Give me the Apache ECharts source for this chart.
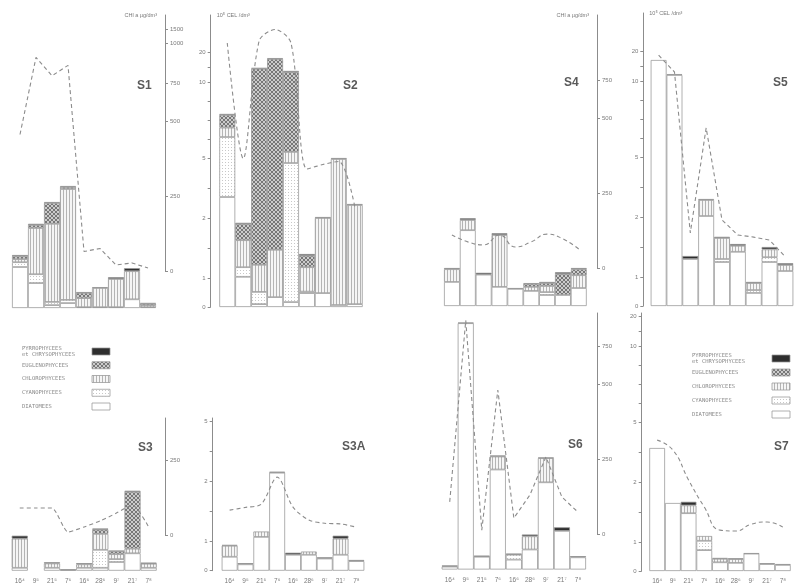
<!DOCTYPE html>
<html>
<head>
<meta charset="utf-8">
<script src="https://cdn.jsdelivr.net/npm/echarts@6/dist/echarts.min.js"></script>
<style>
  html, body { margin: 0; padding: 0; background: #ffffff; }
  #chart { width: 794px; height: 587px; }
</style>
</head>
<body>
<div id="chart"></div>
<script>
// Sampling dates (day with month as superscript)
const dates = ['16⁴', '9⁵', '21⁵', '7⁶', '16⁶', '28⁶', '9⁷', '21⁷', '7⁸'];
const groupNames = ['DIATOMEES', 'CYANOPHYCEES', 'CHLOROPHYCEES', 'EUGLENOPHYCEES', 'PYRROPHYCEES et CHRYSOPHYCEES'];

// Tick values of the two broken scales
const cellTicks = [0, 1, 2, 5, 10, 20];          // 10^5 cells / dm3
const chlTicks = [0, 250, 500, 750, 1000, 1500]; // chl a, µg / dm3

// Cell counts (10^5 cel/dm3) per group, and chlorophyll a (µg/dm3)
const S1_diatomees = [1.2, 0.86, 0.1, 0.17, 0.03, 0.03, 0.03, 0.3, 0.03];
const S1_cyanophycees = [0.08, 0.22, 0.11, 0.11, 0, 0, 0, 0, 0];
const S1_chlorophycees = [0.05, 0.77, 1.71, 3.22, 0.31, 0.66, 0.97, 0.83, 0.07];
const S1_euglenophycees = [0.05, 0.05, 0.88, 0.1, 0.18, 0, 0, 0, 0.05];
const S1_pyrrophycees = [0.02, 0.02, 0.05, 0.05, 0.03, 0.03, 0.03, 0.05, 0.02];
const S1_chl = [455, 910, 795, 860, 65, 75, 20, 27, 10];

const S2_diatomees = [3.05, 1.02, 0.1, 0.34, 0.17, 0.48, 0.48, 0.07, 0.1];
const S2_cyanophycees = [3.33, 0.16, 0.42, 0, 4.58, 0.05, 0, 0, 0];
const S2_chlorophycees = [0.62, 0.45, 0.7, 1.13, 0.65, 0.65, 1.52, 4.88, 2.55];
const S2_euglenophycees = [0.83, 0.27, 13.2, 16.2, 7.9, 0.19, 0, 0, 0];
const S2_pyrrophycees = [0.07, 0.02, 0.3, 0.3, 0.4, 0.03, 0.05, 0.05, 0.05];
const S2_chl = [1000, 375, 1070, 1480, 1000, 340, 355, 365, 215];

const S4_diatomees = [0.83, 1.78, 1.04, 0.66, 0.59, 0.52, 0.38, 0.38, 0.62];
const S4_cyanophycees = [0, 0, 0, 0, 0, 0, 0.1, 0, 0];
const S4_chlorophycees = [0.3, 0.17, 0, 1.04, 0, 0.14, 0.21, 0, 0.41];
const S4_euglenophycees = [0, 0, 0, 0, 0, 0.1, 0.1, 0.67, 0.1];
const S4_pyrrophycees = [0.02, 0.03, 0.03, 0.03, 0.03, 0.03, 0.04, 0.03, 0.02];
const S4_chl = [110, 87, 77, 110, 70, 87, 113, 97, 63];

const S5_diatomees = [17, 12, 1.3, 2.05, 1.25, 1.42, 0.45, 1.25, 1.1];
const S5_cyanophycees = [0, 0, 0, 0, 0.05, 0, 0.1, 0.08, 0];
const S5_chlorophycees = [0, 0.3, 0, 0.8, 0.35, 0.1, 0.24, 0.13, 0.1];
const S5_euglenophycees = [0, 0, 0, 0, 0, 0, 0, 0, 0];
const S5_pyrrophycees = [0, 0, 0.05, 0.05, 0.02, 0.03, 0.04, 0.04, 0.03];
const S5_chl = [905, 800, 117, 467, 160, 110, 103, 93, 37];

const S3_diatomees = [0.1, 0, 0.1, 0, 0.1, 0.1, 0.3, 0.6, 0.1];
const S3_cyanophycees = [0, 0, 0, 0, 0, 0.62, 0.1, 0, 0];
const S3_chlorophycees = [0.95, 0, 0.15, 0, 0.12, 0.41, 0.17, 0.16, 0.14];
const S3_euglenophycees = [0, 0, 0, 0, 0, 0.07, 0.1, 1.07, 0];
const S3_pyrrophycees = [0.05, 0, 0.04, 0.05, 0.04, 0.02, 0.02, 0.02, 0.04];
const S3_chl = [90, 90, 90, 10, 27, 47, 73, 100, 27];

const S3A_diatomees = [0.48, 0.22, 1.08, 2.45, 0.55, 0.55, 0.42, 0.55, 0.33];
const S3A_cyanophycees = [0, 0, 0, 0, 0, 0, 0, 0, 0];
const S3A_chlorophycees = [0.38, 0, 0.09, 0, 0, 0.11, 0, 0.5, 0];
const S3A_euglenophycees = [0, 0, 0, 0, 0, 0, 0, 0, 0];
const S3A_pyrrophycees = [0.03, 0.04, 0, 0.05, 0.07, 0, 0.04, 0.05, 0.04];
const S3A_chl = [83, 92, 103, 193, 93, 50, 39, 37, 26];

const S6_diatomees = [0.1, 17.1, 0.44, 2.55, 0.34, 0.69, 1.97, 1.16, 0.42];
const S6_cyanophycees = [0, 0, 0, 0, 0.17, 0, 0, 0, 0];
const S6_chlorophycees = [0, 0, 0, 0.65, 0, 0.38, 1.15, 0, 0];
const S6_euglenophycees = [0, 0, 0, 0, 0, 0, 0, 0, 0];
const S6_pyrrophycees = [0.04, 0.2, 0.04, 0.05, 0.04, 0.03, 0.03, 0.06, 0.04];
const S6_chl = [107, 910, 13, 480, 53, 130, 257, 123, 73];

const S7_diatomees = [3.7, 1.65, 1.48, 0.72, 0.3, 0.28, 0.6, 0.24, 0.21];
const S7_cyanophycees = [0, 0, 0, 0.3, 0, 0, 0, 0, 0];
const S7_chlorophycees = [0, 0, 0.13, 0.08, 0.12, 0.13, 0, 0, 0];
const S7_euglenophycees = [0, 0, 0, 0, 0, 0, 0, 0, 0];
const S7_pyrrophycees = [0, 0, 0.06, 0, 0.03, 0.03, 0.01, 0.03, 0.03];
const S7_chl = [313, 280, 180, 90, 13, 10, 33, 40, 23];

const stations = [
  { name: 'S1', groups: [S1_diatomees, S1_cyanophycees, S1_chlorophycees, S1_euglenophycees, S1_pyrrophycees], chl: S1_chl },
  { name: 'S2', groups: [S2_diatomees, S2_cyanophycees, S2_chlorophycees, S2_euglenophycees, S2_pyrrophycees], chl: S2_chl },
  { name: 'S4', groups: [S4_diatomees, S4_cyanophycees, S4_chlorophycees, S4_euglenophycees, S4_pyrrophycees], chl: S4_chl },
  { name: 'S5', groups: [S5_diatomees, S5_cyanophycees, S5_chlorophycees, S5_euglenophycees, S5_pyrrophycees], chl: S5_chl },
  { name: 'S3', groups: [S3_diatomees, S3_cyanophycees, S3_chlorophycees, S3_euglenophycees, S3_pyrrophycees], chl: S3_chl },
  { name: 'S3A', groups: [S3A_diatomees, S3A_cyanophycees, S3A_chlorophycees, S3A_euglenophycees, S3A_pyrrophycees], chl: S3A_chl },
  { name: 'S6', groups: [S6_diatomees, S6_cyanophycees, S6_chlorophycees, S6_euglenophycees, S6_pyrrophycees], chl: S6_chl },
  { name: 'S7', groups: [S7_diatomees, S7_cyanophycees, S7_chlorophycees, S7_euglenophycees, S7_pyrrophycees], chl: S7_chl }
];

// ---- scale geometry: height (px) above the zero line of each tick value ----
const CELL_PX = [0, 29, 89, 149, 225, 255];
const CELL_TICK_PX = [0, 29, 59, 89, 119, 149, 168, 187, 206, 225, 240, 255];
const CHL_PX = [0, 75, 150, 188, 228, 242];

function interp(v, xs, ys) {
  if (v <= xs[0]) return ys[0];
  for (let i = 1; i < xs.length; i++) {
    if (v <= xs[i]) return ys[i - 1] + (v - xs[i - 1]) / (xs[i] - xs[i - 1]) * (ys[i] - ys[i - 1]);
  }
  const n = xs.length - 1;
  return ys[n] + (v - xs[n]) / (xs[n] - xs[n - 1]) * (ys[n] - ys[n - 1]);
}
const cellPos = v => interp(v, cellTicks, CELL_PX);
const chlPos = v => interp(v, chlTicks, CHL_PX);

// ---- panel layout: [left, top, width, height] of the bar and line plots ----
const layout = {
  S1:  { bar: [12, 15, 144, 293],        line: [12, 15, 144, 256],        chlAxis: { offset: 9, max: 1500, name: true }, label: [132, 75], smooth: 0 },
  S2:  { bar: [219.3, 15, 143.4, 292],   line: [219.3, 15, 143.4, 256],   cellAxis: { offset: 8.6, max: 20, name: true }, label: [338, 75], smooth: 0.3 },
  S4:  { bar: [444, 15, 142.7, 291],     line: [444, 15, 142.7, 253],     chlAxis: { offset: 10.3, max: 750, name: true }, label: [559, 72], smooth: 0.5 },
  S5:  { bar: [650.7, 13, 142.6, 293],   line: [650.7, 15, 142.6, 253],   cellAxis: { offset: 7.4, max: 20, name: true }, label: [768, 72], smooth: 0 },
  S3:  { bar: [11.7, 418, 145, 152.7],   line: [11.7, 418, 145, 117],     chlAxis: { offset: 8.3, max: 250 }, label: [133, 437], smooth: 0.2, dates: true },
  S3A: { bar: [221.7, 418, 142.6, 152.7], line: [221.7, 418, 142.6, 117], cellAxis: { offset: 9, max: 5 }, label: [337, 436], smooth: 0.3, dates: true },
  S6:  { bar: [441.7, 313, 144.3, 256.5], line: [441.7, 313, 144.3, 221], chlAxis: { offset: 11, max: 750 }, label: [563, 434], smooth: 0, dates: true },
  S7:  { bar: [649.3, 313, 141.4, 258],  line: [649.3, 313, 141.4, 221],  cellAxis: { offset: 7.6, max: 20 }, label: [769, 436], smooth: 0.5, dates: true }
};

// ---- hatch fills for the algal groups ----
function tile(w, h, draw) {
  const c = document.createElement('canvas');
  c.width = w; c.height = h;
  const g = c.getContext('2d');
  draw(g);
  return { image: c, repeat: 'repeat' };
}
const fillDiatomees = '#ffffff';
const fillCyano = tile(3, 3, g => {
  g.fillStyle = '#ffffff'; g.fillRect(0, 0, 3, 3);
  g.fillStyle = '#c8c8c8'; g.fillRect(0, 0, 1, 1);
});
const fillChloro = tile(3, 3, g => {
  g.fillStyle = '#f5f5f5'; g.fillRect(0, 0, 3, 3);
  g.fillStyle = '#b4b4b4'; g.fillRect(0, 0, 1, 3);
});
const fillEugleno = tile(4, 4, g => {
  g.fillStyle = '#cccccc'; g.fillRect(0, 0, 4, 4);
  g.fillStyle = '#777777';
  for (let i = 0; i < 4; i++) { g.fillRect(i, i, 1, 1); g.fillRect(3 - i, i, 1, 1); }
});
const fillPyrro = '#2e2e2e';
const groupFills = [fillDiatomees, fillCyano, fillChloro, fillEugleno, fillPyrro];

const AXIS_COLOR = '#8c8c8c';
const TEXT_COLOR = '#7a7a7a';
const FONT = 'Liberation Sans, DejaVu Sans, sans-serif';
const MONO = 'DejaVu Sans Mono, Liberation Mono, monospace';

function labelFor(px, pxs, ticks) {
  for (let i = 0; i < pxs.length; i++) if (Math.abs(pxs[i] - px) < 0.01) return String(ticks[i]);
  return '';
}

const grid = [], xAxis = [], yAxis = [], series = [], titles = [];

stations.forEach(st => {
  const L = layout[st.name];

  // stacked bars: cumulative totals placed on the cell scale
  const gb = grid.length;
  grid.push({ left: L.bar[0], top: L.bar[1], width: L.bar[2], height: L.bar[3] });
  xAxis.push({
    type: 'category', gridIndex: gb, data: dates,
    axisLine: { show: false }, axisTick: { show: false },
    axisLabel: { show: !!L.dates, fontSize: 6.5, color: TEXT_COLOR, margin: 7, fontFamily: FONT, interval: 0 }
  });
  const ca = L.cellAxis;
  const maxIdx = ca ? cellTicks.indexOf(ca.max) : 0;
  const cellLabelPx = CELL_PX.slice(0, maxIdx + 1);
  const cellTickPx = CELL_TICK_PX.filter(p => p <= (ca ? CELL_PX[maxIdx] : 0) + 0.01);
  yAxis.push({
    type: 'value', gridIndex: gb, min: 0, max: L.bar[3], position: 'left',
    show: !!ca, offset: ca ? ca.offset : 0,
    name: ca && ca.name ? '10⁵ CEL /dm³' : '',
    nameLocation: 'end', nameGap: 0,
    nameTextStyle: { fontSize: 5.5, color: TEXT_COLOR, fontFamily: FONT, align: 'left', verticalAlign: 'middle', padding: [0, 0, 0, 6] },
    splitLine: { show: false },
    axisLine: { show: true, lineStyle: { color: AXIS_COLOR, width: 1 } },
    axisTick: { show: true, length: 3, customValues: cellTickPx, lineStyle: { color: AXIS_COLOR } },
    axisLabel: {
      show: true, customValues: cellLabelPx, fontSize: 6, color: TEXT_COLOR, fontFamily: FONT, margin: 5,
      formatter: v => labelFor(v, CELL_PX, cellTicks)
    }
  });
  const cum = new Array(dates.length).fill(0);
  st.groups.forEach((vals, gi) => {
    const seg = vals.map((v, i) => {
      const lo = cellPos(cum[i]);
      cum[i] += v;
      const h = cellPos(cum[i]) - lo;
      return v > 0 ? +h.toFixed(2) : '-';
    });
    series.push({
      type: 'bar', name: groupNames[gi], xAxisIndex: gb, yAxisIndex: gb, stack: st.name,
      data: seg, barCategoryGap: '0%', silent: true, animation: false,
      itemStyle: { color: groupFills[gi], borderColor: '#959595', borderWidth: 0.75 }
    });
  });

  // chlorophyll a curve on its own zero line
  const gl = grid.length;
  grid.push({ left: L.line[0], top: L.line[1], width: L.line[2], height: L.line[3] });
  xAxis.push({ type: 'category', gridIndex: gl, data: dates, show: false, boundaryGap: true });
  const cha = L.chlAxis;
  const chlIdx = cha ? chlTicks.indexOf(cha.max) : 0;
  const chlLabelPx = CHL_PX.slice(0, chlIdx + 1);
  yAxis.push({
    type: 'value', gridIndex: gl, min: 0, max: L.line[3], position: 'right',
    show: !!cha, offset: cha ? cha.offset : 0,
    name: cha && cha.name ? 'CHl a µg/dm³' : '',
    nameLocation: 'end', nameGap: 0,
    nameTextStyle: { fontSize: 5.5, color: TEXT_COLOR, fontFamily: FONT, align: 'right', verticalAlign: 'middle', padding: [0, 8, 0, 0] },
    splitLine: { show: false },
    axisLine: { show: true, lineStyle: { color: AXIS_COLOR, width: 1 } },
    axisTick: { show: true, length: 3, customValues: chlLabelPx, lineStyle: { color: AXIS_COLOR } },
    axisLabel: {
      show: true, customValues: chlLabelPx, fontSize: 6, color: TEXT_COLOR, fontFamily: FONT, margin: 5,
      formatter: v => labelFor(v, CHL_PX, chlTicks)
    }
  });
  series.push({
    type: 'line', name: st.name + ' chl a', xAxisIndex: gl, yAxisIndex: gl,
    data: st.chl.map(v => +chlPos(v).toFixed(2)),
    smooth: L.smooth, showSymbol: false, silent: true, animation: false, z: 5,
    lineStyle: { color: '#8c8c8c', width: 1.1, type: [4, 3] }
  });

  titles.push({
    text: st.name, left: L.label[0], top: L.label[1],
    textStyle: { fontSize: 12, fontWeight: 'bold', color: '#5a5a5a', fontFamily: FONT }
  });
});

// group key, drawn twice (lower left and inside S7)
function keyGroup(textX, boxX, y0, step) {
  const rows = [
    { lines: ['PYRROPHYCEES', 'et CHRYSOPHYCEES'], fill: fillPyrro },
    { lines: ['EUGLENOPHYCEES'], fill: fillEugleno },
    { lines: ['CHLOROPHYCEES'], fill: fillChloro },
    { lines: ['CYANOPHYCEES'], fill: fillCyano },
    { lines: ['DIATOMEES'], fill: fillDiatomees }
  ];
  const children = [];
  rows.forEach((r, i) => {
    const by = y0 + i * step;
    children.push({
      type: 'rect', shape: { x: boxX, y: by, width: 18, height: 7 },
      style: { fill: r.fill, stroke: '#959595', lineWidth: 0.75 }, silent: true
    });
    r.lines.forEach((t, j) => {
      children.push({
        type: 'text', x: textX, y: by + 3.5 + (r.lines.length === 2 ? (j - 0.5) * 5.5 : 0),
        style: { text: t, fontSize: 5.5, fill: '#8a8a8a', fontFamily: MONO, verticalAlign: 'middle' }, silent: true
      });
    });
  });
  return { type: 'group', children };
}

const chart = echarts.init(document.getElementById('chart'), null, { renderer: 'canvas' });
chart.setOption({
  backgroundColor: '#ffffff',
  animation: false,
  title: titles,
  grid, xAxis, yAxis, series,
  graphic: [keyGroup(22, 92, 348, 13.75), keyGroup(692, 772, 355, 14)]
});
</script>
</body>
</html>
